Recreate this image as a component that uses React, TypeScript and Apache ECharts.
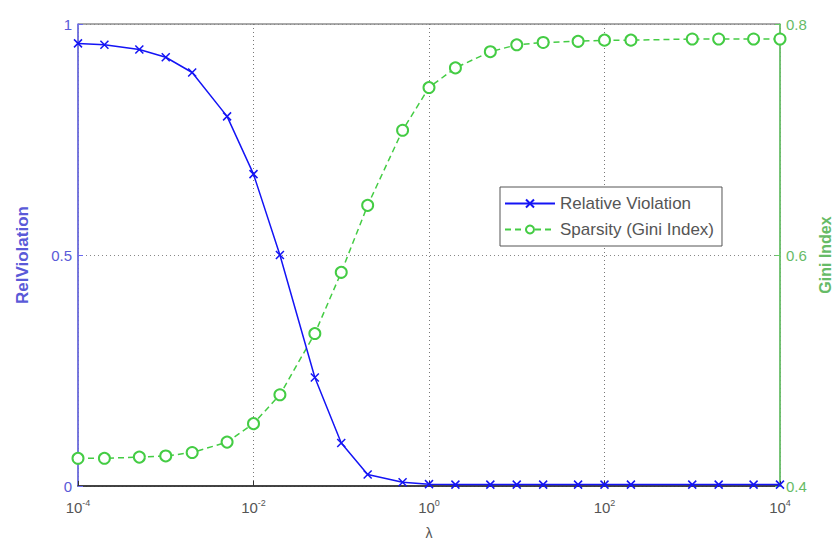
import React, { useEffect, useRef } from "react";
import * as echarts from "echarts";

const lambdas = [1e-4, 2e-4, 5e-4, 1e-3, 2e-3, 5e-3, 1e-2, 2e-2, 5e-2, 0.1, 0.2, 0.5, 1, 2, 5, 10, 20, 50, 100, 200, 1000, 2000, 5000, 10000];
const relViolation = [0.958, 0.955, 0.945, 0.928, 0.895, 0.8, 0.675, 0.5, 0.235, 0.093, 0.025, 0.008, 0.004, 0.003, 0.003, 0.003, 0.003, 0.003, 0.003, 0.003, 0.003, 0.003, 0.003, 0.003];
const gini = [0.424, 0.424, 0.425, 0.426, 0.429, 0.438, 0.454, 0.479, 0.532, 0.585, 0.643, 0.708, 0.745, 0.762, 0.776, 0.782, 0.784, 0.785, 0.786, 0.786, 0.787, 0.787, 0.787, 0.787];

const BLUE = "#1414f5";
const BLUE_TEXT = "#5a5ad8";
const GREEN = "#44cc44";
const GREEN_TEXT = "#66bb66";
const FONT = "Liberation Sans";

export default function App() {
  const ref = useRef<HTMLDivElement>(null);
  useEffect(() => {
    const chart = echarts.init(ref.current!, null, { renderer: "svg" });
    const crossPath = "path://M0,0L10,10M10,0L0,10";
    chart.setOption({
      animation: false,
      backgroundColor: "#ffffff",
      grid: {
        left: 78, right: 53, top: 24, bottom: 57,
        containLabel: false,
        outerBoundsMode: "none",
        show: true, borderColor: "#555", borderWidth: 1, backgroundColor: "transparent",
      },
      legend: {
        orient: "vertical",
        left: 500,
        top: 187,
        padding: [8, 8, 8, 4],
        itemGap: 9,
        itemWidth: 50,
        itemHeight: 10,
        backgroundColor: "#fff",
        borderColor: "#555",
        borderWidth: 1,
        borderRadius: 0,
        textStyle: { color: "#555", fontFamily: FONT, fontSize: 17 },
        data: ["Relative Violation", "Sparsity (Gini Index)"],
      },
      xAxis: {
        type: "log",
        logBase: 10,
        min: 1e-4,
        max: 1e4,
        interval: 2,
        name: "λ",
        nameLocation: "middle",
        nameGap: 40,
        nameTextStyle: { color: "#555", fontFamily: FONT, fontSize: 14 },
        axisLine: { lineStyle: { color: "#222", width: 1.5 } },
        axisTick: { inside: true, length: 5, lineStyle: { color: "#333" } },
        minorTick: { show: false },
        axisLabel: {
          margin: 12,
          color: "#555",
          fontFamily: FONT,
          fontSize: 15,
          formatter: (v: number) => `10{sup|${Math.round(Math.log10(v))}}`,
          rich: { sup: { fontSize: 9, verticalAlign: "top", padding: [0, 0, 9, 0], color: "#555", fontFamily: FONT } },
        },
        splitLine: { show: true, lineStyle: { color: "#777", type: [1, 3], width: 1 } },
      },
      yAxis: [
        {
          type: "value",
          min: 0,
          max: 1,
          interval: 0.5,
          position: "left",
          name: "RelViolation",
          nameLocation: "middle",
          nameRotate: 90,
          nameGap: 47,
          nameTextStyle: { color: BLUE_TEXT, fontFamily: FONT, fontSize: 17, fontWeight: "bold" },
          axisLine: { show: true, lineStyle: { color: "#6a6af0", width: 1.5 } },
          axisTick: { show: true, inside: true, length: 5, lineStyle: { color: "#6a6af0" } },
          axisLabel: { color: BLUE_TEXT, fontFamily: FONT, fontSize: 15, margin: 6, formatter: (v: number) => String(v) },
          splitLine: { show: true, lineStyle: { color: "#888", type: [1, 3], width: 1 } },
        },
        {
          type: "value",
          min: 0.4,
          max: 0.8,
          interval: 0.2,
          position: "right",
          name: "Gini Index",
          nameLocation: "middle",
          nameRotate: 90,
          nameGap: 34,
          nameTextStyle: { color: GREEN_TEXT, fontFamily: FONT, fontSize: 16, fontWeight: "bold" },
          axisLine: { show: true, lineStyle: { color: "#66cc66", width: 1.5 } },
          axisTick: { show: true, inside: true, length: 5, lineStyle: { color: "#66cc66" } },
          axisLabel: { color: GREEN_TEXT, fontFamily: FONT, fontSize: 15, margin: 6, formatter: (v: number) => v.toFixed(1) },
          splitLine: { show: false },
        },
      ],
      series: [
        {
          name: "Relative Violation",
          type: "line",
          yAxisIndex: 0,
          data: lambdas.map((l, i) => [l, relViolation[i]]),
          symbol: crossPath,
          symbolSize: 8,
          showAllSymbol: true,
          lineStyle: { color: BLUE, width: 1.5 },
          itemStyle: { color: "transparent", borderColor: BLUE, borderWidth: 1.5 },
          z: 3,
        },
        {
          name: "Sparsity (Gini Index)",
          type: "line",
          yAxisIndex: 1,
          data: lambdas.map((l, i) => [l, gini[i]]),
          symbol: "emptyCircle",
          symbolSize: 11,
          showAllSymbol: true,
          lineStyle: { color: GREEN, width: 1.5, type: [6, 4] },
          itemStyle: { color: GREEN, borderColor: GREEN, borderWidth: 1.5 },
          z: 2,
        },
      ],
    });
    return () => chart.dispose();
  }, []);
  return <div ref={ref} style={{ position: "fixed", left: 0, top: 0, width: 833, height: 543 }} />;
}
